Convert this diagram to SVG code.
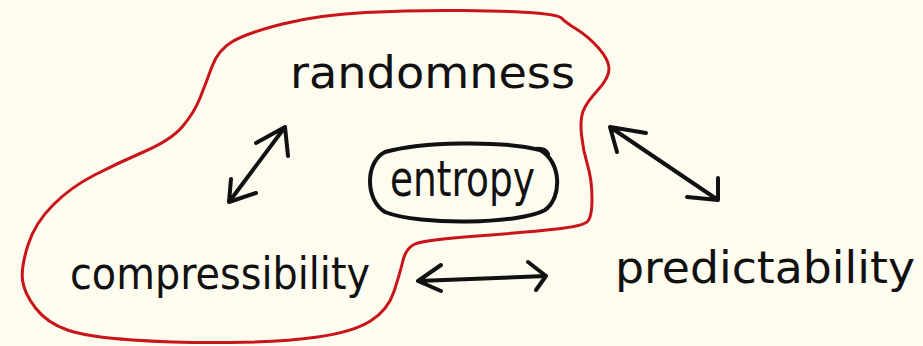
<svg xmlns="http://www.w3.org/2000/svg" width="923" height="346" viewBox="0 0 923 346">
<style>
.ink{fill:none;stroke:#111;stroke-width:4;stroke-linecap:round;stroke-linejoin:round}
.red{fill:none;stroke:#c8141a;stroke-width:3;stroke-linecap:round;stroke-linejoin:round}
.lbl{font-family:"DejaVu Sans","Liberation Sans",sans-serif;font-size:44px;fill:#111}
</style>
<rect width="923" height="346" fill="#fdfcef"/>
<g id="region">
<path class="red" d="M212,66.5 Q218,50 232.5,41.5 Q247,33 282.5,24 Q318,15 365,12.5 Q412,10 462,10.5 Q512,11 535.5,13 Q559,15 562,18.5 Q565,22 577,29.5 Q589,37 599,48.5 Q609,60 609,69 Q609,78 597.5,90.5 Q586,103 583,111.5 Q580,120 581.5,135 Q583,150 587.5,165 Q592,180 592,198.5 Q592,217 587.5,221.5 Q583,226 556.5,229 Q530,232 477,236 Q424,240 415,244 Q406,248 403,260.5 Q400,273 394,291.5 Q388,310 370.5,321 Q353,332 317.5,337 Q282,342 229.5,342.5 Q177,343 132.5,340 Q88,337 67.5,330 Q47,323 35.5,308 Q24,293 22.5,280 Q21,267 28,245 Q35,223 53,205 Q71,187 94.5,175 Q118,163 144.5,151.5 Q171,140 182.5,126.5 Q194,113 200,98 Q206,83 212,66.5 Z"/>
</g>
<g id="randomness"><text class="lbl" x="290" y="88" textLength="285" lengthAdjust="spacingAndGlyphs">randomness</text></g>
<g id="compressibility"><text class="lbl" x="70" y="289" textLength="300" lengthAdjust="spacingAndGlyphs">compressibility</text></g>
<g id="predictability"><text class="lbl" x="615" y="283" textLength="300" lengthAdjust="spacingAndGlyphs">predictability</text></g>
<g id="entropy">
<path class="ink" d="M540,150 C500,140 420,142 385,152 C365,162 365,200 385,212 C420,226 520,224 545,210 C562,198 562,162 540,150 Z M536,149 Q545,148 548,154"/>
<text class="lbl" x="390" y="196" style="font-size:50px" textLength="145" lengthAdjust="spacingAndGlyphs">entropy</text>
</g>
<g id="connectors">
<path class="ink" d="M285,127 L229,202 M256,143 L285,127 L288,156 M231,179 L229,202 L256,193"/>
<path class="ink" d="M610,127 L718,200 M617,152 L610,127 L646,133 M718,178 L718,200 L687,197"/>
<path class="ink" d="M418,281 L546,276 M441,265 L418,281 L441,291 M528,262 L546,276 L536,290"/>
</g>
</svg>
